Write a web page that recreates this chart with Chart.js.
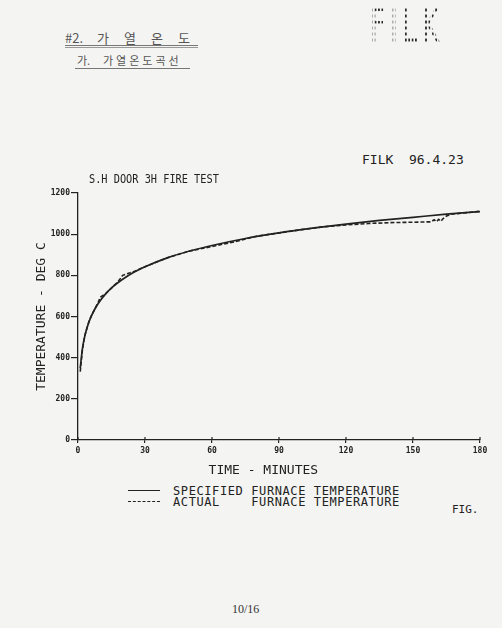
<!DOCTYPE html>
<html>
<head>
<meta charset="utf-8">
<script src="https://cdn.jsdelivr.net/npm/chart.js@4"></script>
<style>
html, body { margin: 0; padding: 0; }
body { width: 502px; height: 628px; background: #f4f4f2; position: relative; overflow: hidden; font-family: "DejaVu Sans Mono", monospace; color: #222; }
.t { position: absolute; white-space: pre; line-height: 1; }
#box { position: absolute; left: 0; top: 150px; width: 502px; height: 330px; }
.ko { font-family: "Noto Sans CJK KR", sans-serif; color: #555; }
.dots { font-family: "DejaVu Sans", sans-serif; font-size: 48px; color: transparent;
  background: radial-gradient(circle, #2a2a2a 1.4px, transparent 1.9px);
  background-size: 6px 6px; background-position: 1px 0; -webkit-background-clip: text; background-clip: text;
  transform: scaleX(0.56); transform-origin: left top; letter-spacing: 8px; }
</style>
</head>
<body>
<!-- page header -->
<div class="t ko" style="left:65px;top:31px;font-size:13px;">#2.</div>
<div class="t ko" style="left:97px;top:31px;font-size:13px;letter-spacing:15px;">가열온도</div>
<div style="position:absolute;left:65px;top:45px;width:133px;height:1px;border-top:1px solid #777;border-bottom:1px solid #999;"></div>
<div class="t ko" style="left:77px;top:55px;font-size:11px;">가.</div>
<div class="t ko" style="left:103px;top:55px;font-size:11px;letter-spacing:3px;">가열온도곡선</div>
<div style="position:absolute;left:75px;top:68px;width:115px;height:1px;background:#777;"></div>
<div class="t dots" style="left:370px;top:1px;">FILK</div>

<div class="t" style="left:362px;top:153px;font-size:13px;">FILK  96.4.23</div>
<div class="t" style="left:89px;top:172px;font-size:13px;transform:scaleX(0.79);transform-origin:left top;">S.H DOOR 3H FIRE TEST</div>

<div id="box"><canvas id="chart"></canvas></div>

<!-- legend -->
<div style="position:absolute;left:128px;top:490px;width:32px;border-top:1.5px solid #222;"></div>
<div style="position:absolute;left:128px;top:501px;width:32px;border-top:1.5px dashed #222;"></div>
<div class="t" style="left:173px;top:485px;font-size:12px;letter-spacing:0.6px;">SPECIFIED FURNACE TEMPERATURE</div>
<div class="t" style="left:173px;top:496px;font-size:12px;letter-spacing:0.6px;">ACTUAL    FURNACE TEMPERATURE</div>
<div class="t" style="left:452px;top:504px;font-size:11px;">FIG.</div>
<div class="t" style="left:232px;top:603px;font-size:12px;font-family:'Liberation Serif',serif;color:#333;">10/16</div>

<script>
// minutes / deg C
const specTime = [1, 2, 3, 4, 5, 6, 8, 10, 12, 15, 20, 25, 30, 40, 50, 60, 75, 90, 105, 120, 135, 150, 165, 180];
const specTemp = [349, 445, 502, 544, 576, 603, 645, 678, 705, 739, 781, 815, 842, 885, 918, 945, 979, 1006, 1029, 1049, 1067, 1082, 1097, 1110];

const actTime = [1, 2, 3, 5, 7, 9, 10, 12, 15, 18, 20, 22, 25, 30, 40, 50, 60, 65, 70, 80, 90, 100, 110, 120, 130, 140, 150, 158, 159.5, 160.5, 161.5, 162.5, 163.5, 165, 167, 170, 180];
const actTemp = [332, 440, 505, 580, 625, 668, 694, 708, 738, 770, 800, 808, 818, 842, 885, 918, 940, 952, 962, 990, 1006, 1022, 1036, 1045, 1052, 1056, 1058, 1060, 1070, 1061, 1072, 1063, 1076, 1088, 1097, 1100, 1111];

const xTicks = [0, 30, 60, 90, 120, 150, 180];
const yTicks = [0, 200, 400, 600, 800, 1000, 1200];

const ink = "#222";

// small marks above the x axis at each tick
const upTicks = {
	id: "upTicks",
	afterDraw(chart) {
		const ctx = chart.ctx;
		const xs = chart.scales.x;
		const y0 = chart.chartArea.bottom;
		ctx.save();
		ctx.strokeStyle = ink;
		ctx.lineWidth = 1.2;
		xTicks.forEach((v) => {
			const px = xs.getPixelForValue(v);
			ctx.beginPath();
			ctx.moveTo(px, y0);
			ctx.lineTo(px, y0 - 3);
			ctx.stroke();
		});
		ctx.restore();
	},
};

const ctx = document.getElementById("chart").getContext("2d");
const chart = new Chart(ctx, {
	type: "line",
	data: {
		datasets: [
			{
				label: "SPECIFIED FURNACE TEMPERATURE",
				data: specTime.map((t, i) => ({ x: t, y: specTemp[i] })),
				borderColor: ink,
				borderWidth: 1.7,
				pointRadius: 0,
				cubicInterpolationMode: "monotone",
			},
			{
				label: "ACTUAL FURNACE TEMPERATURE",
				data: actTime.map((t, i) => ({ x: t, y: actTemp[i] })),
				borderColor: ink,
				borderWidth: 1.6,
				borderDash: [4, 2],
				pointRadius: 0,
				tension: 0,
			},
		],
	},
	options: {
		responsive: true,
		maintainAspectRatio: false,
		animation: false,
		layout: { padding: { left: 0, right: 22, top: 43, bottom: 0 } },
		plugins: {
			legend: { display: false },
			tooltip: { enabled: false },
		},
		scales: {
			x: {
				type: "linear",
				min: 0,
				max: 180,
				afterFit: (s) => { s.height = 40; },
				afterBuildTicks: (s) => { s.ticks = xTicks.map((v) => ({ value: v })); },
				border: { display: true, color: ink, width: 1.3 },
				grid: { drawOnChartArea: false, drawTicks: true, tickLength: 3, color: ink, lineWidth: 1.2 },
				ticks: { color: ink, padding: 3, maxRotation: 0, callback: (v) => String(v), font: { family: "DejaVu Sans Mono", size: 8, weight: "bold" } },
				title: {
					display: true,
					text: "TIME - MINUTES    ",
					color: ink,
					padding: { top: 0, bottom: 2 },
					font: { family: "DejaVu Sans Mono", size: 13 },
				},
			},
			y: {
				min: 0,
				max: 1200,
				afterFit: (s) => { s.width = 78; },
				afterBuildTicks: (s) => { s.ticks = yTicks.map((v) => ({ value: v })); },
				border: { display: true, color: ink, width: 1.3 },
				grid: { drawOnChartArea: false, drawTicks: true, tickLength: 7, color: ink, lineWidth: 1.2 },
				ticks: { color: ink, padding: 1, callback: (v) => String(v), font: { family: "DejaVu Sans Mono", size: 8, weight: "bold" } },
				title: {
					display: true,
					text: "TEMPERATURE - DEG C",
					color: ink,
					padding: { top: 34, bottom: 0 },
					font: { family: "DejaVu Sans Mono", size: 13 },
				},
			},
		},
	},
	plugins: [upTicks],
});
</script>
</body>
</html>
